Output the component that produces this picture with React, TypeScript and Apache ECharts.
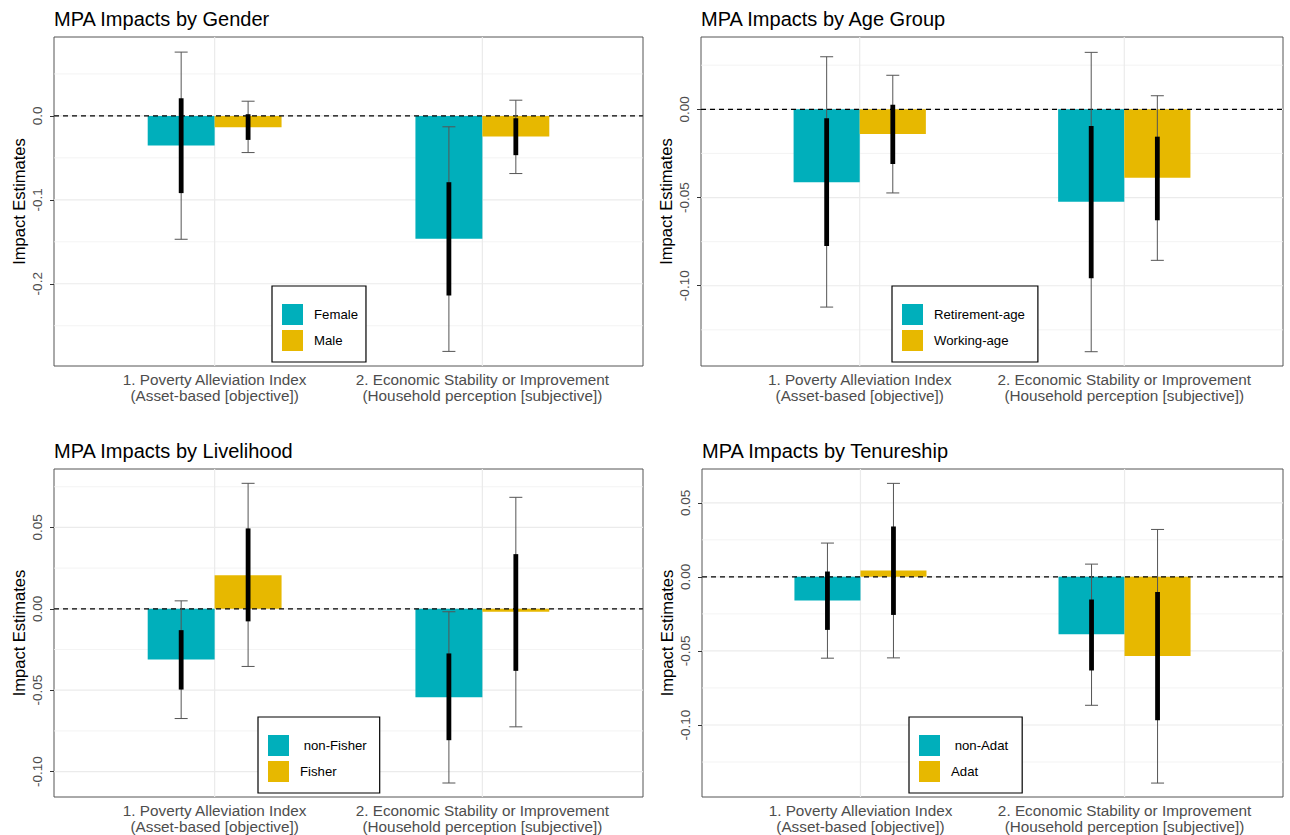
import React, { useEffect, useRef } from "react";
import * as echarts from "echarts";

// ---------- data ----------
const categoryLabels = [
  "1. Poverty Alleviation Index\n(Asset-based [objective])",
  "2. Economic Stability or Improvement\n(Household perception [subjective])",
];
const categoryPositions = [1, 2];

const panelTitles = [
  "MPA Impacts by Gender",
  "MPA Impacts by Age Group",
  "MPA Impacts by Livelihood",
  "MPA Impacts by Tenureship",
];

// Gender
const genderGroups = ["Female", "Male"];
const genderEstimate = [[-0.0353, -0.1464], [-0.0135, -0.0246]];
const genderOuterLow = [[-0.147, -0.2806], [-0.0437, -0.0687]];
const genderOuterHigh = [[0.076, -0.013], [0.0175, 0.0187]];
const genderInnerLow = [[-0.092, -0.214], [-0.0286, -0.0468]];
const genderInnerHigh = [[0.021, -0.079], [0.002, -0.0028]];
const genderTicks = [-0.2, -0.1, 0.0];
const genderRange = [-0.298, 0.094];

// Age group
const ageGroups = ["Retirement-age", "Working-age"];
const ageEstimate = [[-0.0414, -0.0524], [-0.014, -0.0388]];
const ageOuterLow = [[-0.1121, -0.1374], [-0.0474, -0.0856]];
const ageOuterHigh = [[0.0298, 0.0323], [0.0193, 0.0077]];
const ageInnerLow = [[-0.0775, -0.0958], [-0.031, -0.0629]];
const ageInnerHigh = [[-0.0051, -0.0095], [0.0026, -0.0155]];
const ageTicks = [-0.1, -0.05, 0.0];
const ageRange = [-0.1455, 0.041];

// Livelihood
const liveGroups = [" non-Fisher", "Fisher"];
const liveEstimate = [[-0.0311, -0.0543], [0.0207, -0.0018]];
const liveOuterLow = [[-0.0674, -0.107], [-0.0354, -0.0725]];
const liveOuterHigh = [[0.0049, -0.0018], [0.0771, 0.0685]];
const liveInnerLow = [[-0.0496, -0.0807], [-0.0077, -0.0381]];
const liveInnerHigh = [[-0.0131, -0.0274], [0.0494, 0.0336]];
const liveTicks = [-0.1, -0.05, 0.0, 0.05];
const liveRange = [-0.1156, 0.0859];

// Tenureship
const tenureGroups = [" non-Adat", "Adat"];
const tenureEstimate = [[-0.016, -0.0387], [0.0043, -0.0534]];
const tenureOuterLow = [[-0.0549, -0.0867], [-0.0547, -0.1392]];
const tenureOuterHigh = [[0.0228, 0.0086], [0.0631, 0.032]];
const tenureInnerLow = [[-0.0358, -0.0632], [-0.0257, -0.0968]];
const tenureInnerHigh = [[0.0036, -0.0153], [0.034, -0.0103]];
const tenureTicks = [-0.1, -0.05, 0.0, 0.05];
const tenureRange = [-0.1486, 0.0728];

const groupColors = ["#00AFBB", "#E7B800"];

// ---------- layout ----------
const FONT = "'Liberation Sans', Arial, sans-serif";
const gridBoxes = [
  { left: 54, top: 37, width: 589, height: 329 },
  { left: 701, top: 37, width: 582, height: 329 },
  { left: 54, top: 469, width: 589, height: 328 },
  { left: 702, top: 469, width: 581, height: 328 },
];
const legendBoxes = [
  { left: 272, top: 286, padRight: 8 },
  { left: 892, top: 286, padRight: 13 },
  { left: 258, top: 717, padRight: 13 },
  { left: 909, top: 717, padRight: 14 },
];

const panels = [
  { title: panelTitles[0], groups: genderGroups, est: genderEstimate, oLo: genderOuterLow, oHi: genderOuterHigh, iLo: genderInnerLow, iHi: genderInnerHigh, ticks: genderTicks, range: genderRange, dec: 1 },
  { title: panelTitles[1], groups: ageGroups, est: ageEstimate, oLo: ageOuterLow, oHi: ageOuterHigh, iLo: ageInnerLow, iHi: ageInnerHigh, ticks: ageTicks, range: ageRange, dec: 2 },
  { title: panelTitles[2], groups: liveGroups, est: liveEstimate, oLo: liveOuterLow, oHi: liveOuterHigh, iLo: liveInnerLow, iHi: liveInnerHigh, ticks: liveTicks, range: liveRange, dec: 2 },
  { title: panelTitles[3], groups: tenureGroups, est: tenureEstimate, oLo: tenureOuterLow, oHi: tenureOuterHigh, iLo: tenureInnerLow, iHi: tenureInnerHigh, ticks: tenureTicks, range: tenureRange, dec: 2 },
];

const BAR_HALF = 0.125;

function buildOption() {
  const title: any[] = [];
  const grid: any[] = [];
  const xAxis: any[] = [];
  const yAxis: any[] = [];
  const legend: any[] = [];
  const series: any[] = [];

  panels.forEach((p, pi) => {
    const gb = gridBoxes[pi];
    title.push({
      text: p.title,
      left: gb.left,
      top: gb.top - 28,
      padding: 0,
      textStyle: { fontSize: 20, fontWeight: "normal", color: "#000", fontFamily: FONT },
    });
    grid.push({
      left: gb.left,
      top: gb.top,
      width: gb.width,
      height: gb.height,
      show: true,
      borderColor: "#555",
      borderWidth: 1,
      backgroundColor: "#fff",
      containLabel: false,
    });
    xAxis.push({
      gridIndex: pi,
      type: "value",
      min: 0.4,
      max: 2.6,
      axisLine: { show: false },
      splitLine: { show: false },
      axisTick: { show: true, customValues: categoryPositions, length: 4, lineStyle: { color: "#333" } },
      axisLabel: {
        customValues: categoryPositions,
        formatter: (v: number) => categoryLabels[Math.round(v) - 1],
        color: "#4d4d4d",
        fontSize: 15.3,
        lineHeight: 16,
        margin: 5,
        fontFamily: FONT,
      },
    });
    yAxis.push({
      gridIndex: pi,
      type: "value",
      min: p.range[0],
      max: p.range[1],
      axisLine: { show: false },
      splitLine: { show: false },
      axisTick: { show: true, customValues: p.ticks, length: 4, lineStyle: { color: "#333" } },
      axisLabel: {
        customValues: p.ticks,
        rotate: 90,
        formatter: (v: number) => v.toFixed(p.dec),
        color: "#4d4d4d",
        fontSize: 13.5,
        margin: 10,
        fontFamily: FONT,
      },
      name: "Impact Estimates",
      nameLocation: "middle",
      nameRotate: 90,
      nameGap: 27,
      nameTextStyle: { fontSize: 16.5, color: "#000", fontFamily: FONT },
    });

    const lb = legendBoxes[pi];
    legend.push({
      orient: "vertical",
      left: lb.left,
      top: lb.top,
      data: p.groups.map((g) => ({ name: g, icon: "rect" })),
      itemWidth: 21,
      itemHeight: 21,
      itemGap: 5,
      padding: [18, lb.padRight, 11, 10],
      borderColor: "#000",
      borderWidth: 1.2,
      backgroundColor: "#fff",
      selectedMode: false,
      textStyle: { fontSize: 13.2, color: "#000", fontFamily: FONT, padding: [0, 0, 0, 6] },
    });

    // background grid lines
    const majors = p.ticks;
    const step = majors[1] - majors[0];
    const minors: number[] = [];
    for (let v = majors[0] - step / 2; v <= p.range[1]; v += step) {
      if (v >= p.range[0]) minors.push(v);
    }
    const majorsExt: number[] = [];
    for (let v = majors[0] - step * 3; v <= p.range[1] + 1e-9; v += step) {
      if (v >= p.range[0]) majorsExt.push(v);
    }
    series.push({
      type: "custom",
      name: "bg" + pi,
      xAxisIndex: pi,
      yAxisIndex: pi,
      silent: true,
      z: 1,
      data: [[1, 0]],
      renderItem: (params: any, api: any) => {
        const cs = params.coordSys;
        const children: any[] = [];
        minors.forEach((v) => {
          const y = api.coord([1, v])[1];
          children.push({ type: "line", shape: { x1: cs.x, y1: y, x2: cs.x + cs.width, y2: y }, style: { stroke: "#f0f0f0", lineWidth: 0.8 } });
        });
        majorsExt.forEach((v) => {
          const y = api.coord([1, v])[1];
          children.push({ type: "line", shape: { x1: cs.x, y1: y, x2: cs.x + cs.width, y2: y }, style: { stroke: "#ebebeb", lineWidth: 1.2 } });
        });
        categoryPositions.forEach((c) => {
          const x = api.coord([c, 0])[0];
          children.push({ type: "line", shape: { x1: x, y1: cs.y, x2: x, y2: cs.y + cs.height }, style: { stroke: "#ebebeb", lineWidth: 1.2 } });
        });
        return { type: "group", children };
      },
    });

    p.groups.forEach((g, gi) => {
      const offset = gi === 0 ? -BAR_HALF : BAR_HALF;
      const data = categoryPositions.map((c, ci) => [
        c,
        p.est[gi][ci],
        p.oLo[gi][ci],
        p.oHi[gi][ci],
        p.iLo[gi][ci],
        p.iHi[gi][ci],
      ]);
      series.push({
        type: "custom",
        name: g,
        xAxisIndex: pi,
        yAxisIndex: pi,
        z: 2,
        silent: true,
        itemStyle: { color: groupColors[gi] },
        encode: { x: 0, y: 1 },
        data,
        renderItem: (params: any, api: any) => {
          const cx = api.value(0) + offset;
          const est = api.value(1);
          const a = api.coord([cx - BAR_HALF, 0]);
          const b = api.coord([cx + BAR_HALF, est]);
          const mid = api.coord([cx, 0])[0];
          const yOLo = api.coord([cx, api.value(2)])[1];
          const yOHi = api.coord([cx, api.value(3)])[1];
          const yILo = api.coord([cx, api.value(4)])[1];
          const yIHi = api.coord([cx, api.value(5)])[1];
          const cap = 6.5;
          return {
            type: "group",
            children: [
              {
                type: "rect",
                z2: 1,
                shape: { x: a[0], y: Math.min(a[1], b[1]), width: b[0] - a[0], height: Math.abs(b[1] - a[1]) },
                style: { fill: groupColors[gi] },
              },
              { type: "line", z2: 10, shape: { x1: mid, y1: yOLo, x2: mid, y2: yOHi }, style: { stroke: "#555", lineWidth: 1 } },
              { type: "line", z2: 10, shape: { x1: mid - cap, y1: yOLo, x2: mid + cap, y2: yOLo }, style: { stroke: "#555", lineWidth: 1 } },
              { type: "line", z2: 10, shape: { x1: mid - cap, y1: yOHi, x2: mid + cap, y2: yOHi }, style: { stroke: "#555", lineWidth: 1 } },
              { type: "line", z2: 11, shape: { x1: mid, y1: yILo, x2: mid, y2: yIHi }, style: { stroke: "#000", lineWidth: 4.8 } },
            ],
          };
        },
      });
    });

    // dashed zero reference line
    series.push({
      type: "custom",
      name: "zero" + pi,
      xAxisIndex: pi,
      yAxisIndex: pi,
      silent: true,
      z: 2,
      data: [[1, 0]],
      renderItem: (params: any, api: any) => {
        const cs = params.coordSys;
        const y = api.coord([1, 0])[1];
        return {
          type: "line",
          z2: 5,
          shape: { x1: cs.x, y1: y, x2: cs.x + cs.width, y2: y },
          style: { stroke: "#000", lineWidth: 1.3, lineDash: [5, 4] },
        };
      },
    });
  });

  return { animation: false, backgroundColor: "#fff", title, grid, xAxis, yAxis, legend, series };
}

export default function App() {
  const ref = useRef<HTMLDivElement>(null);
  useEffect(() => {
    if (!ref.current) return;
    const chart = echarts.init(ref.current, undefined, { renderer: "svg" });
    chart.setOption(buildOption() as any);
    return () => chart.dispose();
  }, []);
  return (
    <div
      ref={ref}
      style={{ position: "fixed", left: 0, top: 0, width: 1290, height: 835, background: "#fff" }}
    />
  );
}
